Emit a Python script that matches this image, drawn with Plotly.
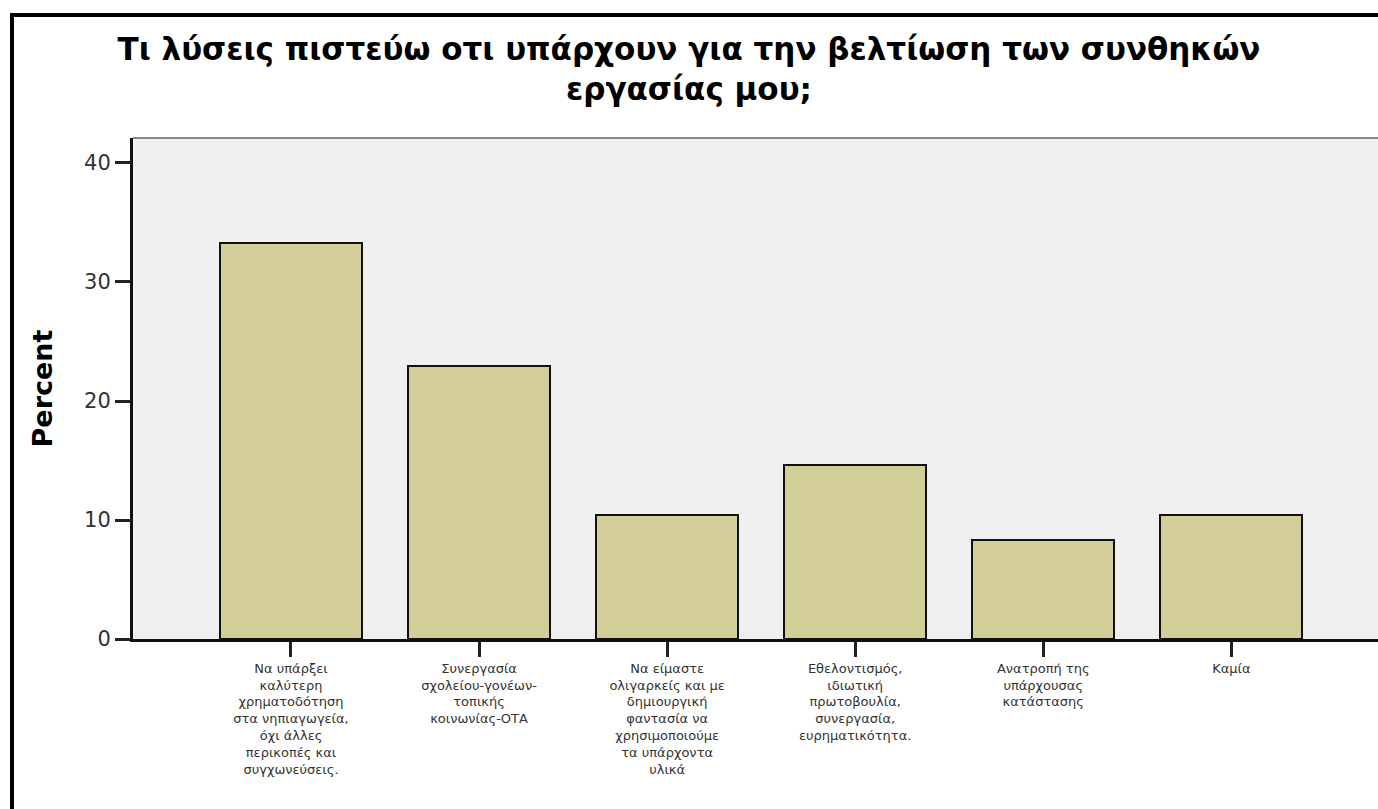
import plotly.graph_objects as go

categories = [
    "Να υπάρξει<br>καλύτερη<br>χρηματοδότηση<br>στα νηπιαγωγεία,<br>όχι άλλες<br>περικοπές και<br>συγχωνεύσεις.",
    "Συνεργασία<br>σχολείου-γονέων-<br>τοπικής<br>κοινωνίας-ΟΤΑ",
    "Να είμαστε<br>ολιγαρκείς και με<br>δημιουργική<br>φαντασία να<br>χρησιμοποιούμε<br>τα υπάρχοντα<br>υλικά",
    "Εθελοντισμός,<br>ιδιωτική<br>πρωτοβουλία,<br>συνεργασία,<br>ευρηματικότητα.",
    "Ανατροπή της<br>υπάρχουσας<br>κατάστασης",
    "Καμία",
]
percent = [33.3, 22.9, 10.4, 14.6, 8.3, 10.4]
y_ticks = [0, 10, 20, 30, 40]
title_text = "Τι λύσεις πιστεύω οτι υπάρχουν για την βελτίωση των συνθηκών<br>εργασίας μου;"

W, H = 1378, 809
L, R, T, B = 133, 0, 138, 170

fig = go.Figure(go.Bar(
    x=list(range(len(categories))), y=percent,
    width=0.755,
    marker=dict(color="#d3cd98", line=dict(color="#111111", width=2)),
))

pw = W - L - R
ph = H - T - B
fx = lambda px: (px - L) / pw
fy = lambda py: 1 - (py - T) / ph

fig.update_layout(
    width=W, height=H,
    margin=dict(l=L, r=R, t=T, b=B, pad=0),
    paper_bgcolor="white",
    plot_bgcolor="#f0f0f0",
    showlegend=False,
    bargap=0,
    title=dict(
        text="<b>" + title_text + "</b>",
        x=0.5, xanchor="center", xref="container",
        y=1 - 60 / H, yanchor="middle",
        font=dict(family="DejaVu Sans", size=31, color="#000"),
    ),
    font=dict(family="DejaVu Sans", color="#000"),
    xaxis=dict(
        range=[-0.84, 5.78],
        tickmode="array", tickvals=list(range(len(categories))), ticktext=categories,
        ticks="outside", ticklen=15, tickwidth=3, tickcolor="#222",
        tickfont=dict(family="DejaVu Sans", size=13, color="#333"),
        tickangle=0,
        showgrid=False, zeroline=False,
        showline=True, linecolor="#111", linewidth=3,
    ),
    yaxis=dict(
        range=[0, 42.1],
        tickmode="array", tickvals=y_ticks,
        ticks="outside", ticklen=15, tickwidth=3, tickcolor="#222",
        tickfont=dict(family="DejaVu Sans", size=21, color="#333"),
        showgrid=False, zeroline=False,
        showline=True, linecolor="#111", linewidth=3,
        title=dict(text="<b>Percent</b>",
                   font=dict(family="DejaVu Sans", size=27, color="#000"),
                   standoff=24),
    ),
    shapes=[
        dict(type="line", xref="paper", yref="paper", x0=0, x1=1, y0=1, y1=1,
             line=dict(color="#888", width=2)),
        dict(type="line", xref="paper", yref="paper", x0=fx(12), x1=fx(12), y0=fy(15), y1=fy(H + 10),
             line=dict(color="#000", width=4)),
        dict(type="line", xref="paper", yref="paper", x0=fx(10), x1=fx(W + 10), y0=fy(15), y1=fy(15),
             line=dict(color="#000", width=4)),
    ],
)

fig.write_html("out.html", config={"displayModeBar": False},
               post_script="document.body.style.margin='0';document.body.style.overflow='hidden';")
